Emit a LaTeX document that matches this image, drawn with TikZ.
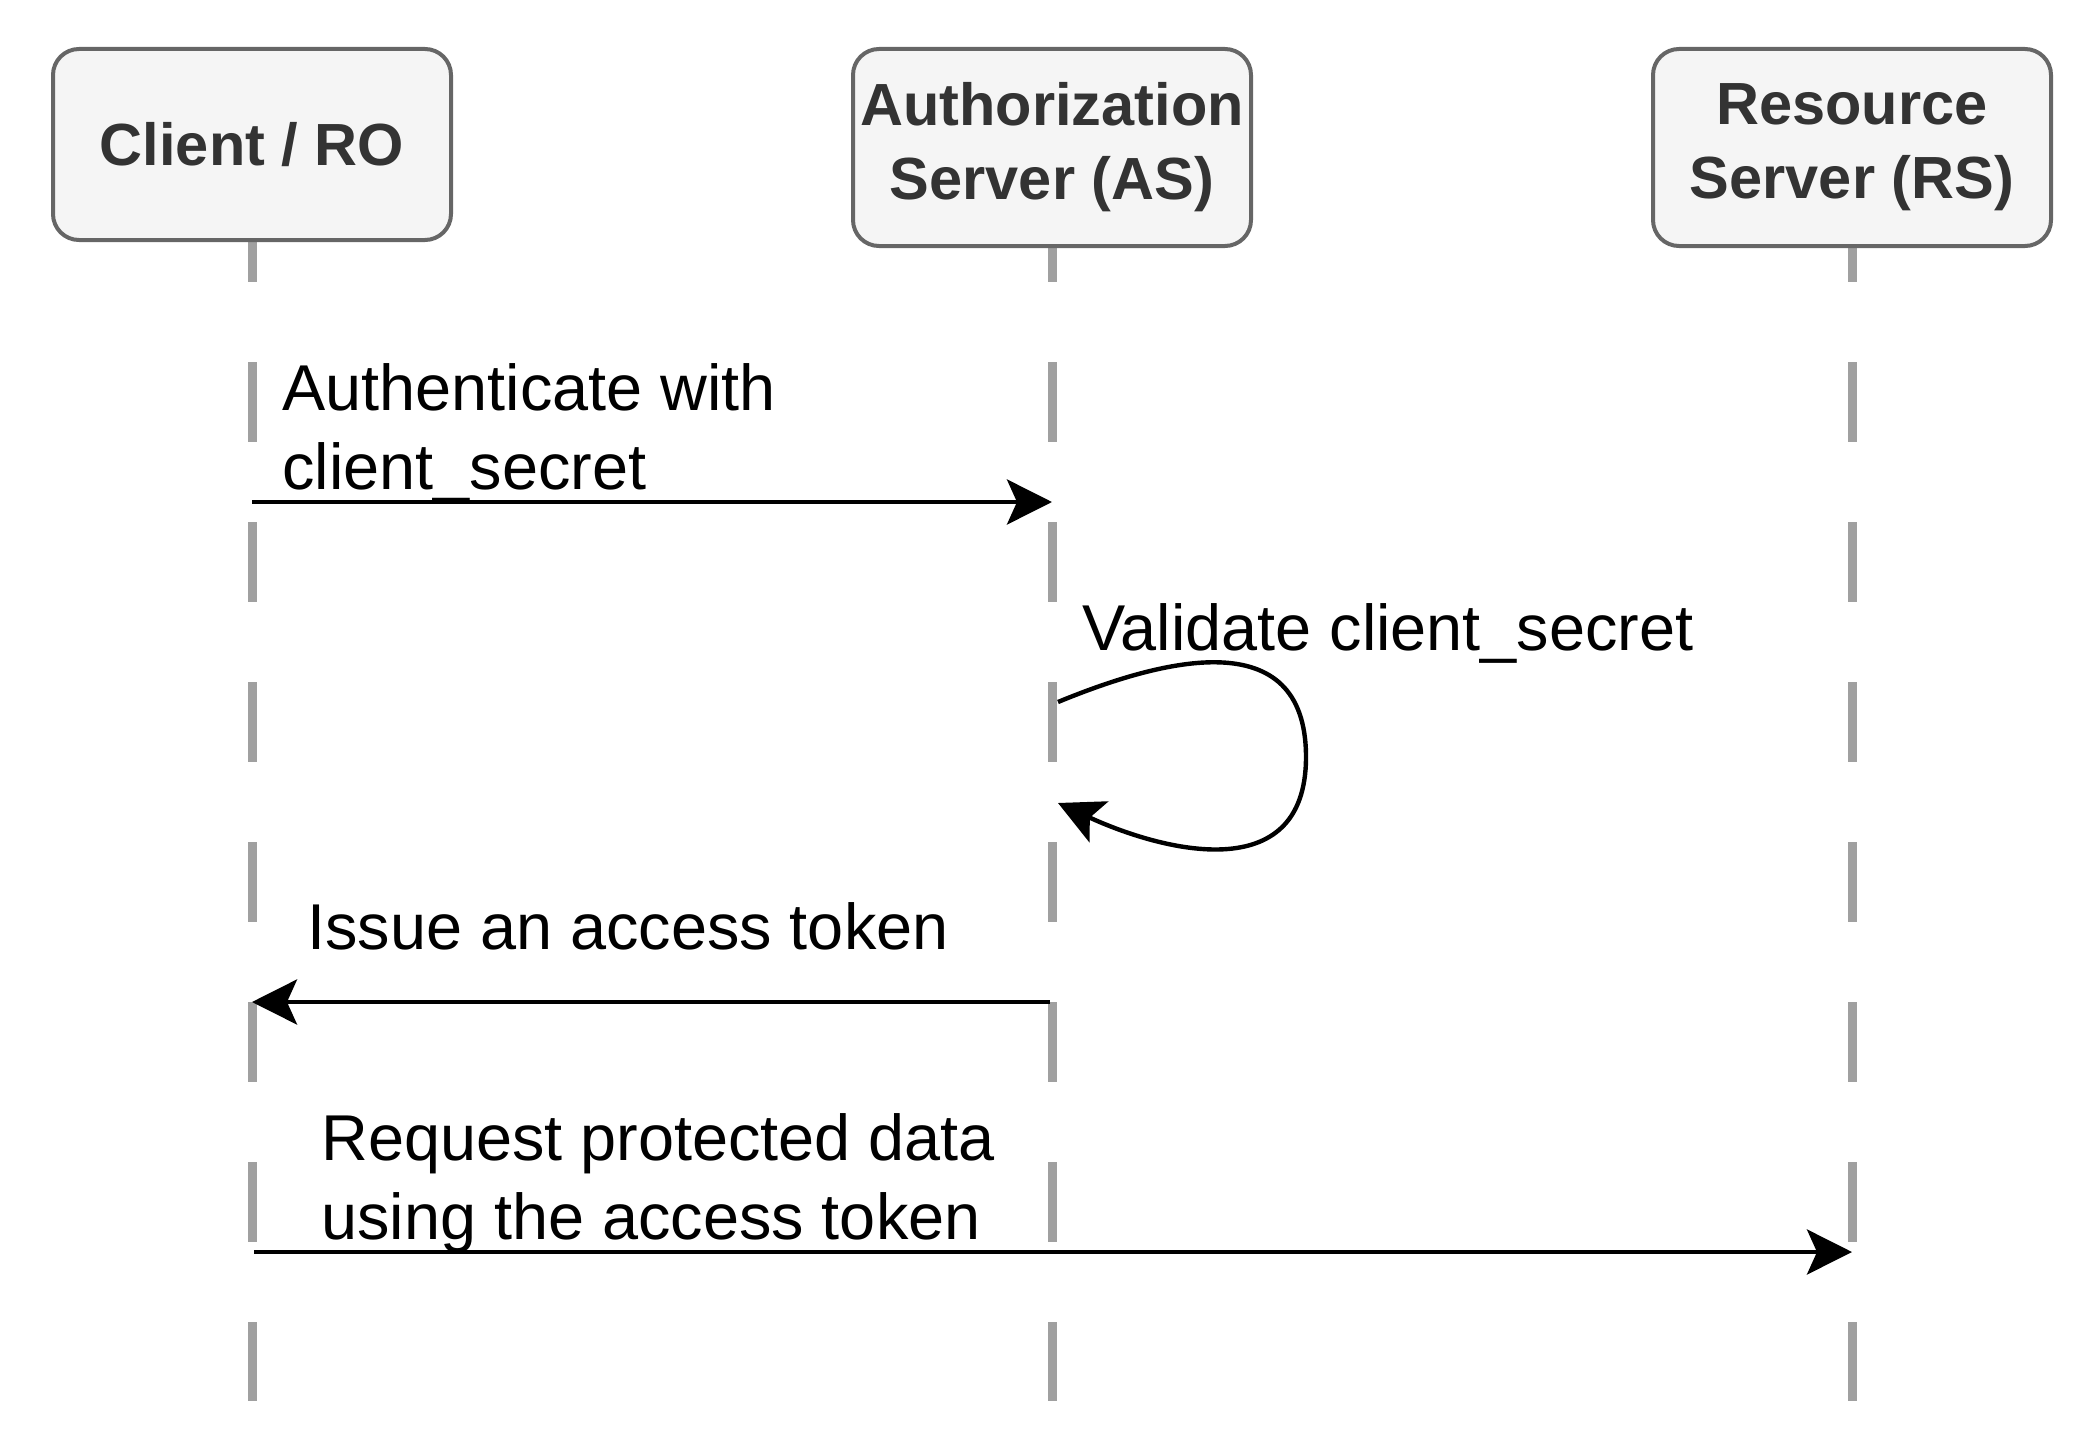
\documentclass[tikz,border=0pt]{standalone}
\usepackage{fontspec}
\setmainfont{Liberation Sans}
\usetikzlibrary{arrows.meta}
\definecolor{boxfill}{HTML}{F5F5F5}
\definecolor{boxline}{HTML}{666666}
\definecolor{boxtext}{HTML}{333333}
\definecolor{lifegray}{HTML}{A0A0A0}
\begin{document}
\begin{tikzpicture}[
    x=0.5pt, y=-0.5pt,
    actor/.style={draw=boxline, fill=boxfill, text=boxtext, line width=2pt,
        rounded corners=13pt, minimum width=199pt, inner sep=0pt, align=center,
        font=\fontsize{29.75}{37}\selectfont\bfseries},
    lifeline/.style={draw=lifegray, line width=4.5pt, dash pattern=on 40pt off 40pt},
    msg/.style={draw=black, line width=2.2pt,
        -{Stealth[length=22.5pt, width=22.5pt, inset=5pt]}},
    msglabel/.style={inner sep=0pt, align=left, font=\fontsize{32.4}{39.5}\selectfont}
]
\useasboundingbox (0,0) rectangle (2100,1450);

\foreach \name/\x in {client/252, as/1052, rs/1852} {
    \coordinate (\name-top) at (\x,202);
    \coordinate (\name-end) at (\x,1401);
    \draw[lifeline] (\name-top) -- (\name-end);
}

\node[actor, minimum height=95.5pt] (client) at (252,144.5) {Client / RO};
\node[actor, minimum height=98.5pt] (as) at (1052,147.5) {Authorization\\Server (AS)};
\node[actor, minimum height=98.5pt] (rs) at (1852,147.5) {Resource\\Server (RS)};

\coordinate (auth-from) at (252,502);
\coordinate (auth-to) at (1052,502);
\draw[msg] (auth-from) -- (auth-to);
\node[msglabel, anchor=base west] (auth-label) at (282,489) {Authenticate with\\client\_secret};

\coordinate (check-from) at (1058,702);
\coordinate (check-to) at (1058,803);
\draw[msg] (check-from) .. controls (1160,660) and (1306,620) .. (1306,757)
    .. controls (1306,890) and (1160,850) .. (check-to);
\node[msglabel, anchor=base west] (check-label) at (1082,650) {Validate client\_secret};

\coordinate (issue-from) at (1050,1002);
\coordinate (issue-to) at (252,1002);
\draw[msg] (issue-from) -- (issue-to);
\node[msglabel, anchor=base west] (issue-label) at (307,949) {Issue an access token};

\coordinate (req-from) at (254,1252);
\coordinate (req-to) at (1852,1252);
\draw[msg] (req-from) -- (req-to);
\node[msglabel, anchor=base west] (req-label) at (321,1239) {Request protected data\\using the access token};
\end{tikzpicture}
\end{document}
